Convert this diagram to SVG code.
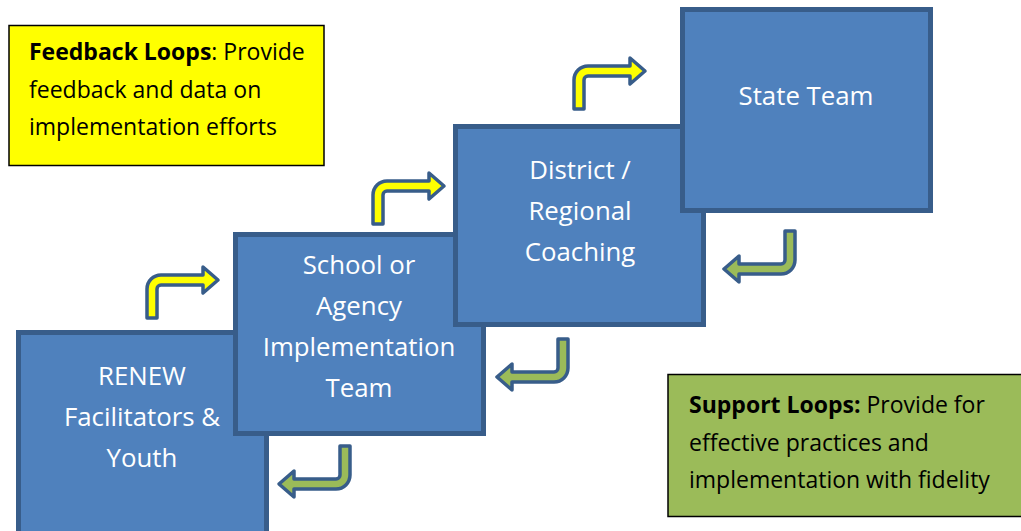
<svg xmlns="http://www.w3.org/2000/svg" width="1021" height="531" viewBox="0 0 1021 531">
<style>
.box{fill:#4F81BD;stroke:#385D8A;stroke-width:5}
.bt{font-family:"Open Sans",Lato,sans-serif;font-size:25.8px;fill:#ffffff;text-anchor:middle}
.lt{font-family:"Open Sans",Lato,sans-serif;font-size:23px;fill:#000000}
.ya{fill:#FFFF00;stroke:#385D8A;stroke-width:3.5;stroke-linejoin:round}
.ga{fill:#9BBB59;stroke:#385D8A;stroke-width:3.5;stroke-linejoin:round}
</style>
<defs>
<path id="arr" d="M0,0 L0,-29 A14,14 0 0 1 14,-43 L56,-43 L56,-51 L71,-38 L56,-25 L56,-33 L14,-33 A4,4 0 0 0 10,-29 L10,0 Z"/>
</defs>
<rect width="1021" height="531" fill="#ffffff"/>
<g id="legend-feedback">
<rect x="9" y="25.5" width="315" height="140" fill="#FFFF00" stroke="#000" stroke-width="1.5"/>
<text class="lt" x="29" y="60"><tspan font-weight="bold">Feedback Loops</tspan>: Provide</text>
<text class="lt" x="29" y="97.5">feedback and data on</text>
<text class="lt" x="29" y="135">implementation efforts</text>
</g>
<g id="legend-support">
<rect x="668" y="374.5" width="360" height="142" fill="#9BBB59" stroke="#000" stroke-width="1.5"/>
<text class="lt" x="689" y="413"><tspan font-weight="bold">Support Loops:</tspan> Provide for</text>
<text class="lt" x="689" y="450.5">effective practices and</text>
<text class="lt" x="689" y="488">implementation with fidelity</text>
</g>
<g id="node-renew">
<rect class="box" x="18.5" y="332.5" width="248" height="220"/>
<text class="bt" x="142" y="385">RENEW</text>
<text class="bt" x="142" y="426">Facilitators &amp;</text>
<text class="bt" x="142" y="467">Youth</text>
</g>
<g id="node-school">
<rect class="box" x="235.5" y="234.5" width="248" height="199"/>
<text class="bt" x="359" y="274">School or</text>
<text class="bt" x="359" y="315">Agency</text>
<text class="bt" x="359" y="356">Implementation</text>
<text class="bt" x="359" y="397">Team</text>
</g>
<g id="node-district">
<rect class="box" x="455.5" y="126.5" width="248" height="198"/>
<text class="bt" x="580" y="179">District /</text>
<text class="bt" x="580" y="220">Regional</text>
<text class="bt" x="580" y="261">Coaching</text>
</g>
<g id="node-state">
<rect class="box" x="682.5" y="9.5" width="248" height="201"/>
<text class="bt" x="806" y="105">State Team</text>
</g>
<g id="connectors">
<use href="#arr" class="ya" transform="translate(147,318)"/>
<use href="#arr" class="ya" transform="translate(373,224)"/>
<use href="#arr" class="ya" transform="translate(574,109)"/>
<use href="#arr" class="ga" transform="translate(350,446) rotate(180)"/>
<use href="#arr" class="ga" transform="translate(568,339) rotate(180)"/>
<use href="#arr" class="ga" transform="translate(795,231) rotate(180)"/>
</g>
</svg>
